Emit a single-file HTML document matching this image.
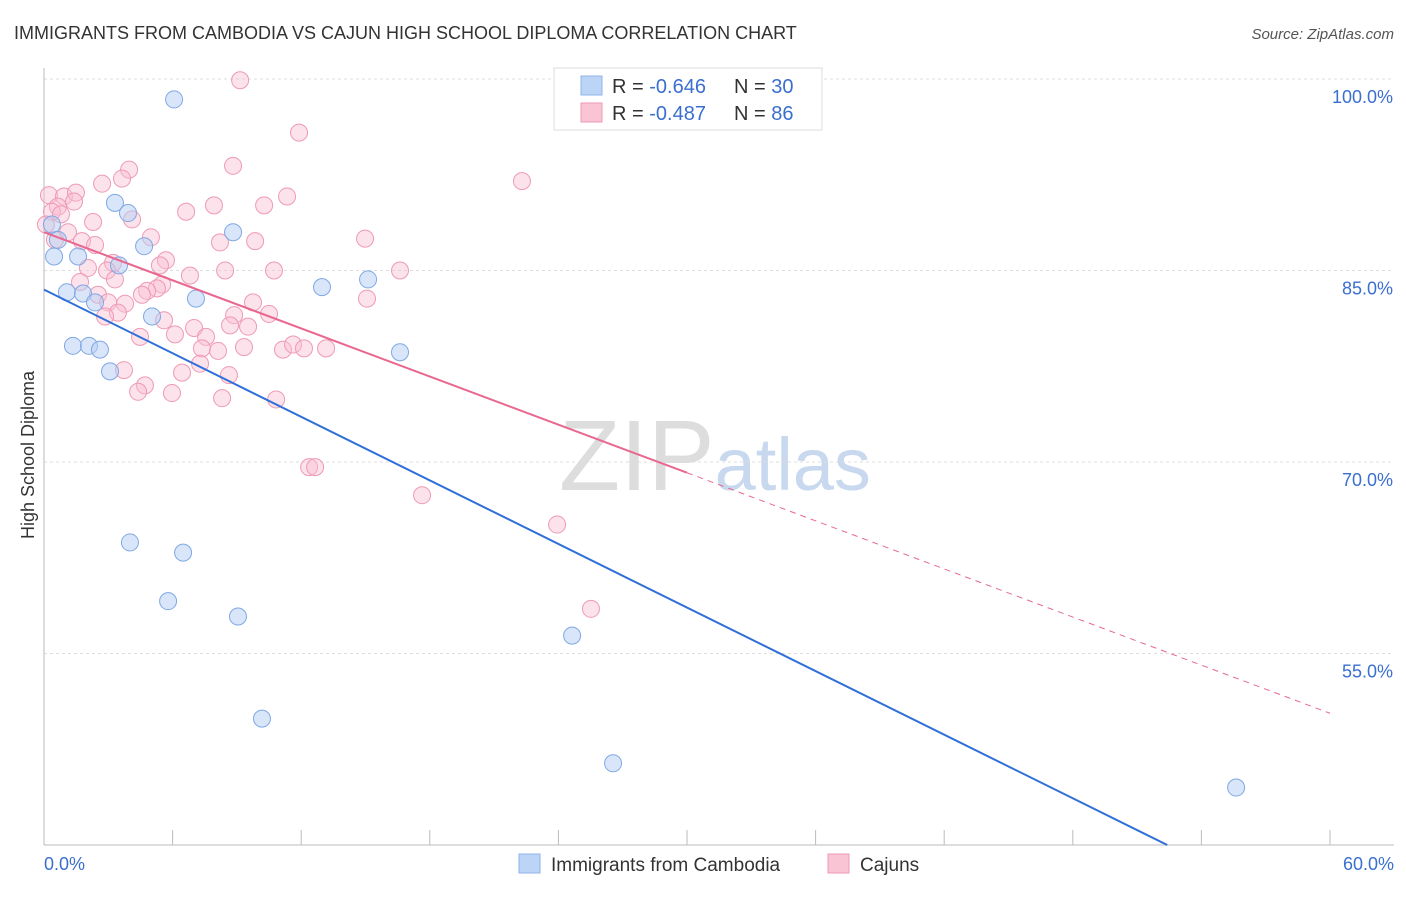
<!DOCTYPE html>
<html><head><meta charset="utf-8"><style>
body{margin:0;background:#fff;font-family:"Liberation Sans",sans-serif;}
svg text{font-family:"Liberation Sans",sans-serif;}
</style></head><body>
<svg id="chart" width="1406" height="892">
<text x="14" y="39" font-size="18" fill="#333">IMMIGRANTS FROM CAMBODIA VS CAJUN HIGH SCHOOL DIPLOMA CORRELATION CHART</text>
<text x="1394" y="39" font-size="15" fill="#555" font-style="italic" text-anchor="end">Source: ZipAtlas.com</text>
<text x="715" y="490" font-size="100" fill="#ddd" text-anchor="middle" font-family="Liberation Serif">ZIP<tspan fill="#c8d8ee" font-family="Liberation Sans" font-size="74">atlas</tspan></text>
<text transform="translate(34,455) rotate(-90)" font-size="18" fill="#333" text-anchor="middle">High School Diploma</text>
<g id="grid"></g><g id="marks"></g>
<g>
<rect x="554" y="68" width="268" height="62" fill="#fff" stroke="#ddd"/>
<rect x="581" y="76" width="21" height="19" fill="#bcd4f6" stroke="#8fb3e8"/>
<rect x="581" y="103" width="21" height="19" fill="#f9c4d4" stroke="#ef9ab4"/>
<text x="612" y="93" font-size="20" fill="#333">R = <tspan fill="#3a6fd0">-0.646</tspan></text>
<text x="734" y="93" font-size="20" fill="#333">N = <tspan fill="#3a6fd0">30</tspan></text>
<text x="612" y="120" font-size="20" fill="#333">R = <tspan fill="#3a6fd0">-0.487</tspan></text>
<text x="734" y="120" font-size="20" fill="#333">N = <tspan fill="#3a6fd0">86</tspan></text>
</g>
<g>
<rect x="519" y="854" width="21" height="19" fill="#bcd4f6" stroke="#8fb3e8"/>
<text x="551" y="871" font-size="19" fill="#333">Immigrants from Cambodia</text>
<rect x="828" y="854" width="21" height="19" fill="#f9c4d4" stroke="#ef9ab4"/>
<text x="860" y="871" font-size="19" fill="#333">Cajuns</text>
</g>
</svg>
<script>
const yTicks=[100,85,70,55];
const yTickLabels=["100.0%","85.0%","70.0%","55.0%"];
const xEndLabels=["0.0%","60.0%"];
const blueX=[6.07,3.31,3.92,8.82,0.37,0.65,4.67,0.47,1.59,3.50,1.07,1.82,2.38,7.09,12.97,15.12,5.04,1.35,2.10,2.61,16.61,3.08,4.01,6.49,5.79,9.05,24.64,10.17,26.55,55.62];
const blueY=[98.4,90.3,89.5,88.0,88.6,87.4,86.9,86.1,86.1,85.4,83.3,83.2,82.5,82.8,83.7,84.3,81.4,79.1,79.1,78.8,78.6,77.1,63.7,62.9,59.1,57.9,56.4,49.9,46.4,44.5];
const pinkX=[9.15,11.90,8.82,3.97,22.30,3.64,2.71,0.23,0.93,1.49,11.34,1.40,7.93,10.27,6.63,0.65,0.37,0.79,4.11,2.29,0.09,1.12,4.99,0.51,1.77,2.38,8.21,9.85,14.98,5.69,5.41,3.22,2.05,2.94,16.61,10.73,8.45,6.81,3.31,1.68,5.51,5.27,4.81,4.57,2.52,2.99,3.78,9.75,15.07,3.45,2.85,8.87,10.50,5.60,7.00,8.68,9.52,6.11,7.56,4.48,7.37,9.33,11.15,11.62,12.13,13.16,8.12,7.28,3.73,6.44,8.63,4.71,4.39,5.97,8.31,10.83,12.37,12.65,17.64,23.94,25.52];
const pinkY=[99.9,95.8,93.2,92.9,92.0,92.2,91.8,90.9,90.8,91.1,90.8,90.4,90.1,90.1,89.6,90.0,89.6,89.4,89.0,88.8,88.6,88.0,87.6,87.4,87.3,87.0,87.2,87.3,87.5,85.8,85.4,85.6,85.2,85.0,85.0,85.0,85.0,84.6,84.3,84.1,83.9,83.6,83.4,83.1,83.1,82.5,82.4,82.5,82.8,81.7,81.4,81.5,81.6,81.1,80.5,80.7,80.6,80.0,79.8,79.8,78.9,79.0,78.8,79.2,78.9,78.9,78.7,77.7,77.2,77.0,76.8,76.0,75.5,75.4,75.0,74.9,69.6,69.6,67.4,65.1,58.5];
const blueFit=[83.5,-0.83];
const pinkFit=[88.0,-0.628];
const X=v=>44+v*1286/60, Y=v=>79+(100-v)*191.5/15;
const NS="http://www.w3.org/2000/svg";
function mk(t,a,p){const e=document.createElementNS(NS,t);for(const k in a)e.setAttribute(k,a[k]);p.appendChild(e);return e;}
const g=document.getElementById('grid'),m=document.getElementById('marks');
yTicks.forEach((t,i)=>{
 const l=mk('line',{x1:44,x2:1394,y1:Y(t),y2:Y(t),stroke:'#ddd','stroke-dasharray':'3,3'},g);
 
 
 const tx=mk('text',{x:1393,y:Y(t)+24,'font-size':18,fill:'#3a6fd0','text-anchor':'end'},g);tx.textContent=yTickLabels[i];
 
 
});
mk('line',{x1:44,x2:44,y1:68,y2:845,stroke:'#bbb'},g);
mk('line',{x1:44,x2:1394,y1:845,y2:845,stroke:'#bbb'},g);
for(let i=0;i<=10;i++){const t=mk('line',{x1:X(i*6),x2:X(i*6),y1:830,y2:845,stroke:'#bbb'},g);
 
 }
[[0,'start',0],[60,'end',64]].forEach((d,i)=>{const t=mk('text',{x:X(d[0])+d[2],y:870,'font-size':18,fill:'#3a6fd0','text-anchor':d[1]},g);t.textContent=xEndLabels[i];
 
 });
pinkX.forEach((x,i)=>{const c=mk('circle',{cx:X(x),cy:Y(pinkY[i]),r:8.5,fill:'rgba(249,190,210,0.45)',stroke:'#ef9ab4','stroke-width':1},m);
 
 });
blueX.forEach((x,i)=>{const c=mk('circle',{cx:X(x),cy:Y(blueY[i]),r:8.5,fill:'rgba(180,206,244,0.5)',stroke:'#7fa8e4','stroke-width':1},m);
 
 });
const bx2=(40-blueFit[0])/blueFit[1];
const bl=mk('line',{x1:X(0),y1:Y(blueFit[0]),x2:X(bx2),y2:Y(40),stroke:'#2f6fd8','stroke-width':2},m);


const pl=mk('line',{x1:X(0),y1:Y(pinkFit[0]),x2:X(30),y2:Y(pinkFit[0]+pinkFit[1]*30),stroke:'#e8688f','stroke-width':2},m);


const pd=mk('line',{x1:X(30),y1:Y(pinkFit[0]+pinkFit[1]*30),x2:X(60),y2:Y(pinkFit[0]+pinkFit[1]*60),stroke:'#e8688f','stroke-width':1,'stroke-dasharray':'6,5'},m);


</script>
</body></html>
